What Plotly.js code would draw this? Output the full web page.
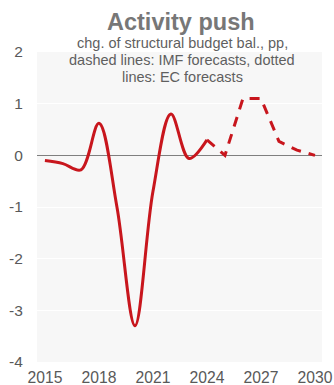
<!DOCTYPE html>
<html>
<head>
<meta charset="utf-8">
<script src="https://cdn.plot.ly/plotly-3.0.1.min.js"></script>
<style>
  html, body { margin: 0; padding: 0; background: #ffffff; }
  #chart { width: 334px; height: 385px; }
</style>
</head>
<body>
<div id="chart"></div>
<script>
// Change of structural budget balance, percentage points
const outturnYears = [2015, 2016, 2017, 2018, 2019, 2020, 2021, 2022, 2023, 2024];
const outturnValues = [-0.1, -0.16, -0.28, 0.62, -1.0, -3.3, -0.7, 0.8, -0.06, 0.3];

// IMF forecasts (dashed), joined to the last outturn year
const imfYears = [2024, 2025, 2026, 2027, 2028, 2029, 2030];
const imfValues = [0.3, 0.0, 1.1, 1.1, 0.27, 0.1, 0.0];

const xTicks = [2015, 2018, 2021, 2024, 2027, 2030];
const yTicks = [-4, -3, -2, -1, 0, 1, 2];

const titleText = 'Activity push';
const subtitleLines = [
  'chg. of structural budget bal., pp,',
  'dashed lines: IMF forecasts, dotted',
  'lines: EC forecasts'
];

const lineColor = '#c8161d';
const fontFamily = 'Liberation Sans, Arial, sans-serif';

const traces = [
  {
    x: outturnYears, y: outturnValues, type: 'scatter', mode: 'lines',
    line: { color: lineColor, width: 3, shape: 'spline', smoothing: 1 },
    hoverinfo: 'skip'
  },
  {
    x: imfYears, y: imfValues, type: 'scatter', mode: 'lines',
    line: { color: lineColor, width: 3, dash: '10px,8px' },
    hoverinfo: 'skip'
  }
];

// subtitle rows sit 17px apart, just under the bold heading
const subtitleY = [1.029, 0.974, 0.919];
const annotations = [
  {
    text: '<b>' + titleText + '</b>',
    xref: 'paper', yref: 'paper', x: 0.505, y: 1.098,
    xanchor: 'center', yanchor: 'middle', showarrow: false,
    font: { size: 23.5, color: '#777777', family: fontFamily }
  }
].concat(subtitleLines.map((t, i) => ({
  text: t,
  xref: 'paper', yref: 'paper', x: 0.509, y: subtitleY[i],
  xanchor: 'center', yanchor: 'middle', showarrow: false,
  font: { size: 14.5, color: '#5f5f5f', family: fontFamily }
})));

const layout = {
  width: 334, height: 385,
  margin: { l: 37, r: 12, t: 52, b: 23 },
  paper_bgcolor: '#ffffff',
  plot_bgcolor: '#f7f7f7',
  showlegend: false,
  font: { family: fontFamily, color: '#595959', size: 15.7 },
  xaxis: {
    range: [2014.56, 2030.39],
    tickvals: xTicks, ticktext: xTicks.map(String),
    showgrid: false, zeroline: false, showline: false,
    ticks: 'outside', ticklen: 1, tickcolor: 'rgba(0,0,0,0)',
    tickfont: { size: 15.7, color: '#595959' },
    fixedrange: true
  },
  yaxis: {
    range: [-4, 2],
    tickvals: yTicks, ticktext: yTicks.map(String),
    showgrid: true, gridcolor: '#ffffff', gridwidth: 1,
    zeroline: true, zerolinecolor: '#7f7f7f', zerolinewidth: 1.5,
    showline: false,
    ticks: 'outside', ticklen: 10, tickcolor: 'rgba(0,0,0,0)',
    tickfont: { size: 15.5, color: '#595959' },
    fixedrange: true
  },
  annotations: annotations
};

Plotly.newPlot('chart', traces, layout, { staticPlot: true, displayModeBar: false });
</script>
</body>
</html>
